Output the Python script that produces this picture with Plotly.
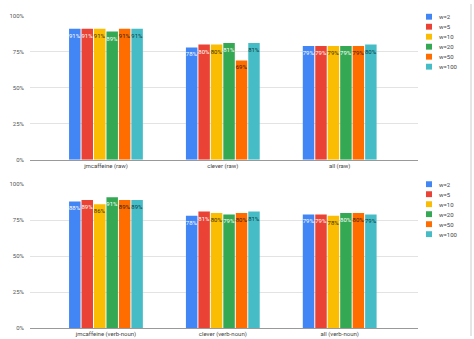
import plotly.graph_objects as go

categories_top = ["jmcaffeine (raw)", "clever (raw)", "all (raw)"]
categories_bottom = ["jmcaffeine (verb-noun)", "clever (verb-noun)", "all (verb-noun)"]
series_names = ["w=2", "w=5", "w=10", "w=20", "w=50", "w=100"]
colors = ["#4285F4", "#EA4335", "#FBBC04", "#34A853", "#FF6D01", "#46BDC6"]
text_colors = ["#ffffff", "#ffffff", "#3a3000", "#ffffff", "#3a1a00", "#0b3a3e"]

top_values = [
    [91, 78, 79],
    [91, 80, 79],
    [91, 80, 79],
    [89, 81, 79],
    [91, 69, 79],
    [91, 81, 80],
]
bottom_values = [
    [88, 78, 79],
    [89, 81, 79],
    [86, 80, 78],
    [91, 79, 80],
    [89, 80, 80],
    [89, 81, 79],
]
y_ticks = [0, 25, 50, 75, 100]

fig = go.Figure()
for i, name in enumerate(series_names):
    fig.add_trace(go.Bar(
        x=list(range(len(categories_top))), y=top_values[i], name=name,
        marker=dict(color=colors[i], line=dict(width=0)),
        text=[f"{v}%" for v in top_values[i]], textposition="inside",
        insidetextanchor="end", textangle=0, constraintext="none",
        textfont=dict(size=6, color=text_colors[i], family="Roboto"),
        xaxis="x", yaxis="y", showlegend=False))
    fig.add_trace(go.Bar(
        x=list(range(len(categories_bottom))), y=bottom_values[i], name=name,
        marker=dict(color=colors[i], line=dict(width=0)),
        text=[f"{v}%" for v in bottom_values[i]], textposition="inside",
        insidetextanchor="end", textangle=0, constraintext="none",
        textfont=dict(size=6, color=text_colors[i], family="Roboto"),
        xaxis="x2", yaxis="y2", showlegend=False))

W, H = 474, 339
def py(p):
    return 1 - p / H

axis_common = dict(showgrid=True, gridcolor="#e3e3e3", gridwidth=1, zeroline=False,
                   tickfont=dict(size=6, color="#555555", family="Roboto"),
                   ticks="", range=[0, 100], tickvals=y_ticks,
                   ticktext=[f"{t}%" for t in y_ticks], ticklabelstandoff=5)
xcommon = dict(range=[-0.65, 2.67], tickvals=[0, 1, 2], showgrid=False, zeroline=False,
               showline=True, linecolor="#999999", linewidth=1, ticks="",
               tickfont=dict(size=6, color="#444444", family="Roboto"))

fig.update_layout(
    width=W, height=H, margin=dict(l=0, r=0, t=0, b=0),
    paper_bgcolor="white", plot_bgcolor="white",
    barmode="group", bargap=0.36, bargroupgap=0.08,
    font=dict(family="Roboto"),
    xaxis=dict(domain=[30 / W, 418 / W], anchor="y", ticktext=categories_top, **xcommon),
    yaxis=dict(domain=[py(159), py(12)], anchor="x", **axis_common),
    xaxis2=dict(domain=[30 / W, 418 / W], anchor="y2", ticktext=categories_bottom, **xcommon),
    yaxis2=dict(domain=[py(331), py(184)], anchor="x2", **axis_common),
)

shapes = []
annotations = []
for top0 in (13, 184):
    for i, name in enumerate(series_names):
        yc = top0 + i * 10.2
        shapes.append(dict(type="rect", xref="paper", yref="paper",
                           x0=426 / W, x1=432 / W, y0=py(yc + 3), y1=py(yc - 3),
                           fillcolor=colors[i], line=dict(width=0)))
        annotations.append(dict(xref="paper", yref="paper", x=437 / W, y=py(yc),
                                text=name, showarrow=False, xanchor="left", yanchor="middle",
                                font=dict(size=6, color="#444444", family="Roboto")))
shapes.append(dict(type="line", xref="paper", yref="paper", x0=471 / W, x1=471 / W,
                   y0=0, y1=1, line=dict(color="#cccccc", width=1)))
fig.update_layout(shapes=shapes, annotations=annotations)

fig.write_html("out.html")
